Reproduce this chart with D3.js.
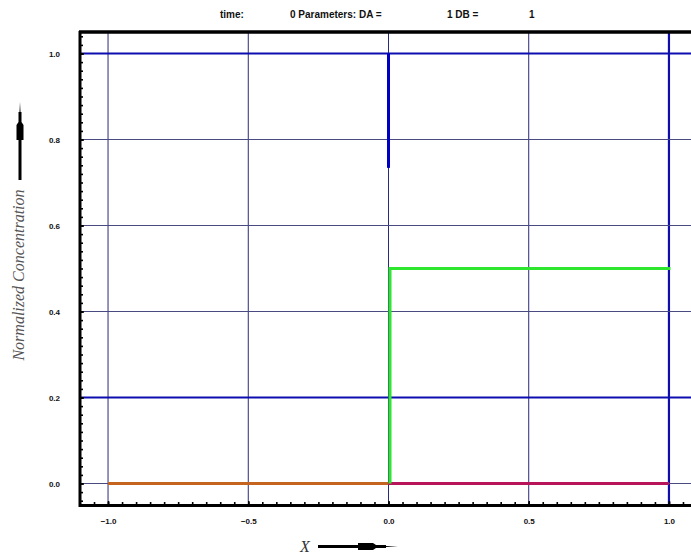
<!DOCTYPE html>
<html>
<head>
<meta charset="utf-8">
<script src="https://cdn.jsdelivr.net/npm/d3@7"></script>
<style>
  html, body { margin: 0; padding: 0; background: #fff; }
  svg { display: block; }
</style>
</head>
<body>
<svg id="chart" width="691" height="555"></svg>
<script>
// Axis ticks and grid values
const xTicks = [-1.0, -0.5, 0.0, 0.5, 1.0];
const yTicks = [0.0, 0.2, 0.4, 0.6, 0.8, 1.0];
const xMinorTicks = d3.range(-1.05, 1.1, 0.05).map(v => +v.toFixed(2));
const yMinorTicks = d3.range(-0.04, 1.06, 0.02).map(v => +v.toFixed(2));
const strongGridX = [1.0];
const strongGridY = [1.0, 0.2];

// Concentration profiles at t = 0
const leftX  = [-1.0, 0.0];
const leftY  = [0.0, 0.0];
const rightX = [0.0, 1.0];
const rightY = [0.0, 0.0];
const stepX  = [0.0, 0.0, 1.0];
const stepY  = [0.0, 0.5, 0.5];
const edgeX  = [0.0, 0.0];
const edgeY  = [1.0, 0.734];

// Header values
const timeValue = 0;
const paramDA = 1;
const paramDB = 1;

const svg = d3.select("#chart");
const x = d3.scaleLinear().domain([-1.1, 1.1]).range([80, 697]);
const y = d3.scaleLinear().domain([-0.05, 1.05]).range([505, 32]);

// Grid
const grid = svg.append("g");
grid.selectAll("line.gx").data(xTicks).join("line")
  .attr("x1", d => x(d)).attr("x2", d => x(d))
  .attr("y1", y(1.05)).attr("y2", y(-0.05))
  .attr("stroke", d => strongGridX.includes(d) ? "#0e0eb0" : "#2a2a7a")
  .attr("stroke-width", d => strongGridX.includes(d) ? 2.2 : 1);
grid.selectAll("line.gy").data(yTicks).join("line")
  .attr("x1", x(-1.1)).attr("x2", 691)
  .attr("y1", d => y(d)).attr("y2", d => y(d))
  .attr("stroke", d => strongGridY.includes(d) ? "#0e0eb0" : "#4a4a82")
  .attr("stroke-width", d => strongGridY.includes(d) ? 2.2 : 1);

// Series
const line = d3.line().x(d => x(d[0])).y(d => y(d[1]));
const series = [
  { xs: leftX,  ys: leftY,  color: "#c4641e", dx: 0 },
  { xs: rightX, ys: rightY, color: "#b8145a", dx: 0 },
  { xs: stepX,  ys: stepY,  color: "#2ee62e", dx: 1.5 },
  { xs: edgeX,  ys: edgeY,  color: "#0000c4", dx: 0 }
];
svg.append("g").selectAll("path").data(series).join("path")
  .attr("d", s => line(s.xs.map((v, i) => [v, s.ys[i]])))
  .attr("fill", "none")
  .attr("stroke", s => s.color)
  .attr("stroke-width", 3)
  .attr("transform", s => `translate(${s.dx},0)`);

// Axes
const labelFont = "bold 8px 'Liberation Sans', Arial, sans-serif";
const xAxis = svg.append("g").attr("transform", `translate(0,${y(-0.05)})`)
  .call(d3.axisBottom(x).tickValues(xTicks).tickFormat(d3.format(".1f")).tickSize(-4).tickPadding(13));
const xMinor = svg.append("g").attr("transform", `translate(0,${y(-0.05)})`)
  .call(d3.axisBottom(x).tickValues(xMinorTicks).tickSize(-3));
const yAxis = svg.append("g").attr("transform", `translate(${x(-1.1)},0)`)
  .call(d3.axisLeft(y).tickValues(yTicks).tickFormat(d3.format(".1f")).tickSize(-4).tickPadding(20));
const yMinor = svg.append("g").attr("transform", `translate(${x(-1.1)},0)`)
  .call(d3.axisLeft(y).tickValues(yMinorTicks).tickSize(-3));

[xMinor, yMinor].forEach(g => g.selectAll(".tick text").remove());
[xAxis, xMinor, yAxis, yMinor].forEach(g => {
  g.select(".domain").remove();
  g.selectAll(".tick line").attr("stroke", "#000").attr("stroke-width", 1.6);
  g.selectAll(".tick text").style("font", labelFont).attr("fill", "#111");
});

// Frame lines
svg.append("line").attr("x1", 79).attr("x2", 691).attr("y1", 505.5).attr("y2", 505.5)
  .attr("stroke", "#000").attr("stroke-width", 3);
svg.append("line").attr("x1", 80).attr("x2", 80).attr("y1", 31).attr("y2", 507)
  .attr("stroke", "#000").attr("stroke-width", 3);
svg.append("line").attr("x1", 79).attr("x2", 691).attr("y1", 32).attr("y2", 32)
  .attr("stroke", "#000").attr("stroke-width", 3.5);

// Header
const head = svg.append("g").style("font", "bold 10px 'Liberation Sans', Arial, sans-serif").attr("fill", "#111");
head.append("text").attr("x", 220).attr("y", 18).text("time:");
head.append("text").attr("x", 290).attr("y", 18).text(`${timeValue} Parameters: DA =`);
head.append("text").attr("x", 447).attr("y", 18).text(`${paramDA} DB =`);
head.append("text").attr("x", 529).attr("y", 18).text(`${paramDB}`);

// Axis titles with arrows
const titleFont = "italic 16px 'Liberation Serif', 'Times New Roman', serif";
svg.append("text").attr("x", 305).attr("y", 552).attr("text-anchor", "middle")
  .style("font", titleFont).attr("fill", "#333").text("X");
svg.append("path")
  .attr("d", "M318,545 L358,545 L358,543 L373,543 L376,545 L386,545 L386,546 L398,546.5 L386,547 L386,548 L376,548 L373,550 L358,550 L358,548 L318,548 Z")
  .attr("fill", "#000");

svg.append("text")
  .attr("transform", "translate(24,275) rotate(-90)")
  .attr("text-anchor", "middle")
  .style("font", titleFont).attr("fill", "#555").text("Normalized Concentration");
svg.append("path")
  .attr("d", "M18.5,180 L18.5,140 L16.5,140 L16.5,125 L18.5,122 L18.5,112 L19.5,112 L20,102 L20.5,112 L21.5,112 L21.5,122 L23.5,125 L23.5,140 L21.5,140 L21.5,180 Z")
  .attr("fill", "#000");
</script>
</body>
</html>
